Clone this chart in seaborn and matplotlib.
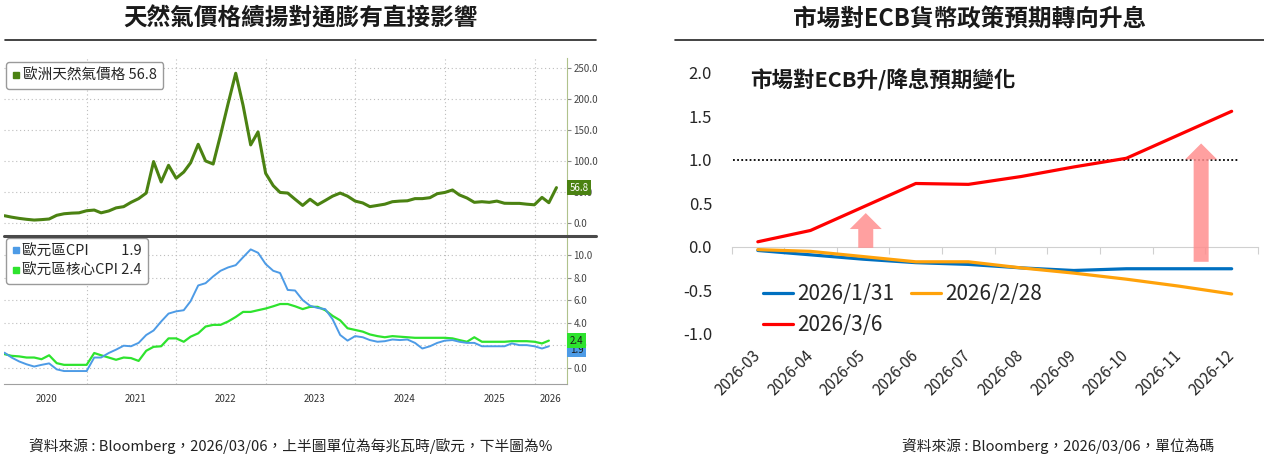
import numpy as np
import pandas as pd
import matplotlib
matplotlib.use('Agg')
import matplotlib.pyplot as plt
import matplotlib.dates as mdates
import seaborn as sns
from matplotlib.lines import Line2D
from matplotlib.patches import FancyArrowPatch, ArrowStyle

# ---------------- data ----------------
# European natural gas price (EUR/MWh), month-end Jan 2020 .. Mar 2026
gas_price = [11.3, 9, 7, 5.5, 4.3, 5, 6, 12, 14.5, 15.5,
             16, 19.4, 20.5, 16, 19, 24, 26, 33, 39, 48,
             99, 66, 93, 72, 82, 97, 127, 100, 95, 142,
             193, 242, 190, 126, 147, 80, 60, 49, 48, 38,
             28, 38, 29, 36, 43, 48, 43, 35, 32, 26,
             28, 30, 34, 35, 35.5, 39, 39, 40.5, 47, 49,
             53, 45, 40, 33, 34, 33, 35, 31.5, 31.3, 31.3,
             30, 29, 41, 32.4, 56.8]
# Euro area CPI and core CPI (% y/y), Jan 2020 .. Feb 2026
euro_cpi = [1.33, 0.9, 0.55, 0.3, 0.1, 0.25, 0.38, -0.15, -0.3, -0.3,
            -0.3, -0.3, 0.9, 0.9, 1.3, 1.6, 1.95, 1.9, 2.2, 2.9,
            3.3, 4.1, 4.8, 5.0, 5.1, 5.9, 7.3, 7.5, 8.1, 8.6,
            8.9, 9.1, 9.8, 10.5, 10.2, 9.2, 8.6, 8.4, 6.9, 6.85,
            6.0, 5.5, 5.3, 5.2, 4.3, 2.9, 2.4, 2.8, 2.7, 2.45,
            2.3, 2.35, 2.5, 2.45, 2.5, 2.2, 1.7, 1.9, 2.2, 2.4,
            2.45, 2.3, 2.2, 2.2, 1.9, 1.9, 1.9, 1.9, 2.15, 2.0,
            2.0, 1.9, 1.7, 1.9]
euro_core_cpi = [1.2, 1.05, 1.0, 0.9, 0.9, 0.75, 1.1, 0.4, 0.25, 0.25,
                 0.25, 0.25, 1.3, 1.1, 0.9, 0.7, 0.9, 0.85, 0.6, 1.5,
                 1.85, 1.9, 2.6, 2.6, 2.3, 2.75, 3.05, 3.65, 3.8, 3.8,
                 4.1, 4.5, 4.95, 4.95, 5.1, 5.25, 5.45, 5.65, 5.65, 5.45,
                 5.2, 5.4, 5.4, 5.1, 4.6, 4.2, 3.5, 3.35, 3.2, 2.95,
                 2.8, 2.7, 2.8, 2.75, 2.7, 2.65, 2.65, 2.65, 2.65, 2.65,
                 2.6, 2.45, 2.3, 2.7, 2.3, 2.3, 2.3, 2.3, 2.35, 2.35,
                 2.35, 2.3, 2.15, 2.4]
year_labels = ['2020', '2021', '2022', '2023', '2024', '2025', '2026']
gas_ticks = [0, 50, 100, 150, 200, 250]
cpi_ticks = [0, 2, 4, 6, 8, 10]

# Market-implied ECB rate change (in 25bp moves)
ecb_months = ['2026-03', '2026-04', '2026-05', '2026-06', '2026-07',
              '2026-08', '2026-09', '2026-10', '2026-11', '2026-12']
ecb_0131 = [-0.04, -0.09, -0.14, -0.18, -0.20, -0.24, -0.27, -0.25, -0.25, -0.25]
ecb_0228 = [-0.03, -0.05, -0.11, -0.17, -0.17, -0.24, -0.30, -0.37, -0.45, -0.54]
ecb_0306 = [0.06, 0.19, 0.46, 0.73, 0.72, 0.81, 0.92, 1.02, 1.29, 1.56]
ecb_labels = ['2026/1/31', '2026/2/28', '2026/3/6']
ecb_ticks = [-1.0, -0.5, 0.0, 0.5, 1.0, 1.5, 2.0]

# ---------------- style ----------------
sns.set_theme(style='white')
plt.rcParams['font.family'] = ['Noto Sans CJK TC', 'DejaVu Sans']
plt.rcParams['axes.unicode_minus'] = False

W, H = 1264, 457
fig = plt.figure(figsize=(W / 100, H / 100), dpi=100)
fig.patch.set_facecolor('white')


def rect(x0, y0, x1, y1):
    return [x0 / W, 1 - y1 / H, (x1 - x0) / W, (y1 - y0) / H]


ax_g = fig.add_axes(rect(4, 58, 567, 235))
ax_c = fig.add_axes(rect(4, 237, 567, 384))
ax_r = fig.add_axes(rect(731.5, 73, 1258, 334))

GAS_C = '#4b8212'
CPI_C = '#4d9be6'
CORE_C = '#2ee32e'

# ---------------- left: gas ----------------
month_end = pd.offsets.MonthEnd()
gas_df = pd.DataFrame({'date': pd.date_range('2020-01-31', periods=len(gas_price), freq=month_end),
                       'value': gas_price})
cpi_df = pd.DataFrame({'date': pd.date_range('2020-01-31', periods=len(euro_cpi), freq=month_end),
                       'cpi': euro_cpi, 'core': euro_core_cpi})

sns.lineplot(data=gas_df, x='date', y='value', ax=ax_g, color=GAS_C, lw=2.2)
sns.lineplot(data=cpi_df, x='date', y='core', ax=ax_c, color=CORE_C, lw=1.6)
sns.lineplot(data=cpi_df, x='date', y='cpi', ax=ax_c, color=CPI_C, lw=1.4)

x_left = mdates.date2num(pd.Timestamp('2020-01-29'))
x_right = mdates.date2num(pd.Timestamp('2026-05-13'))
bounds = mdates.date2num(pd.to_datetime([f'{y}-01-01' for y in year_labels[1:]]))
centers = [mdates.date2num(pd.Timestamp(f'{y}-07-20')) for y in year_labels[:-1]]
centers.append((bounds[-1] + x_right) / 2)

for ax, ticks, ylim in [(ax_g, gas_ticks, (-19.9, 266.7)), (ax_c, cpi_ticks, (-1.45, 11.6))]:
    ax.set_xlim(x_left, x_right)
    ax.set_ylim(*ylim)
    ax.set_xlabel('')
    ax.set_ylabel('')
    ax.yaxis.tick_right()
    ax.set_yticks(ticks)
    ax.set_yticklabels([f'{t:.1f}' for t in ticks])
    ax.tick_params(axis='y', length=3, width=0.8, color='#8a8a8a', labelsize=7,
                   labelcolor='#444444', pad=1.5)
    ax.set_xticks(bounds)
    ax.grid(True, which='major', linestyle=(0, (1, 2.5)), color='#bdbdbd', lw=0.8)
    for s in ['left', 'top', 'bottom']:
        ax.spines[s].set_visible(False)
    ax.spines['right'].set_color('#b0c28c')
    ax.spines['right'].set_linewidth(0.8)

ax_g.tick_params(axis='x', length=0, labelbottom=False)
ax_c.set_xticklabels([])
ax_c.set_xticks(centers, minor=True)
ax_c.set_xticklabels(year_labels, minor=True)
ax_c.tick_params(axis='x', which='major', length=14, width=0.8, color='#aaaaaa', direction='out')
ax_c.tick_params(axis='x', which='minor', length=0, labelsize=7, labelcolor='#333333', pad=7)
ax_c.spines['bottom'].set_visible(True)
ax_c.spines['bottom'].set_color('#a0a0a0')
ax_c.spines['bottom'].set_linewidth(0.8)

# separator between the two panels
fig.add_artist(Line2D([4 / W, 596 / W], [1 - 236 / H, 1 - 236 / H], color='#4a4a4a', lw=2.2))

# value tags on the right axis
ax_g.text(1.005, gas_price[-1], f'{gas_price[-1]:.1f}', transform=ax_g.get_yaxis_transform(),
          fontsize=7, color='white', va='center', ha='left', zorder=5, clip_on=False,
          bbox=dict(boxstyle='square,pad=0.25', fc=GAS_C, ec='none'))
ax_c.text(1.005, euro_cpi[-1] - 0.3, f'{euro_cpi[-1]:.1f}', transform=ax_c.get_yaxis_transform(),
          fontsize=7, color='#1a1a1a', va='center', ha='left', zorder=5, clip_on=False,
          bbox=dict(boxstyle='square,pad=0.25', fc=CPI_C, ec='none'))
ax_c.text(1.005, euro_core_cpi[-1], f'{euro_core_cpi[-1]:.1f}', transform=ax_c.get_yaxis_transform(),
          fontsize=7, color='#1a1a1a', va='center', ha='left', zorder=6, clip_on=False,
          bbox=dict(boxstyle='square,pad=0.25', fc=CORE_C, ec='none'))

# legends
ax_g.legend(handles=[Line2D([], [], ls='', marker='s', ms=4.5, color=GAS_C)],
            labels=[f'歐洲天然氣價格 {gas_price[-1]:.1f}'], loc='upper left',
            bbox_to_anchor=(0.004, 0.977), fontsize=10.5, frameon=True, fancybox=True,
            edgecolor='#9a9a9a', facecolor='white', framealpha=1, handlelength=0.5,
            handletextpad=0.2, borderpad=0.45, borderaxespad=0)
ax_c.legend(handles=[Line2D([], [], ls='', marker='s', ms=4.5, color=CPI_C),
                     Line2D([], [], ls='', marker='s', ms=4.5, color=CORE_C)],
            labels=[f'歐元區CPI\u3000\u3000 {euro_cpi[-1]:.1f}', f'歐元區核心CPI {euro_core_cpi[-1]:.1f}'],
            loc='upper left', bbox_to_anchor=(0.004, 0.99), fontsize=10.5, frameon=True,
            fancybox=True, edgecolor='#9a9a9a', facecolor='white', framealpha=1,
            handlelength=0.5, handletextpad=0.2, borderpad=0.4, borderaxespad=0,
            labelspacing=0.4)

# ---------------- right: ECB ----------------
ecb_df = pd.DataFrame({'pos': np.arange(len(ecb_months)), 'month': ecb_months,
                       ecb_labels[0]: ecb_0131, ecb_labels[1]: ecb_0228, ecb_labels[2]: ecb_0306})
ecb_colors = ['#0070c0', '#ffa20a', '#ff0000']
for lab, col in zip(ecb_labels, ecb_colors):
    sns.lineplot(data=ecb_df, x='pos', y=lab, ax=ax_r, color=col, lw=2.3, label=lab)

ax_r.set_xlim(-0.5, len(ecb_months) - 0.5)
ax_r.set_ylim(-1.0, 2.0)
ax_r.set_xlabel('')
ax_r.set_ylabel('')
for s in ax_r.spines.values():
    s.set_visible(False)
ax_r.set_yticks(ecb_ticks)
ax_r.set_yticklabels([f'{t:.1f}' for t in ecb_ticks])
ax_r.tick_params(axis='y', length=0, labelsize=12, labelcolor='#262626', pad=14)
ax_r.set_xticks(ecb_df['pos'])
ax_r.set_xticklabels(ecb_df['month'], rotation=45, ha='right', va='center', rotation_mode='anchor')
ax_r.tick_params(axis='x', length=0, labelsize=11, labelcolor='#262626', pad=14)

zero_ax = ax_r.secondary_xaxis(1 / 3)
zero_ax.set_xticks(np.arange(-0.5, len(ecb_months), 1.0))
zero_ax.tick_params(axis='x', length=5, width=0.8, color='#d0d0d0', direction='out',
                    labelbottom=False, labeltop=False)
for s in zero_ax.spines.values():
    s.set_color('#d0d0d0')
    s.set_linewidth(0.8)

# 1.0 reference line
ax_r.hlines(1.0, -0.47, 9.12, colors='black', linestyles=(0, (1, 1.3)), lw=1.3, zorder=1)

# pink arrows
arrow_style = ArrowStyle.Simple(head_length=11.5, head_width=23, tail_width=10.8)
for xa, y0, y1 in [(2.05, -0.01, 0.39), (8.42, -0.17, 1.19)]:
    ax_r.add_patch(FancyArrowPatch((xa, y0), (xa, y1), arrowstyle=arrow_style, mutation_scale=1,
                                   fc='#ff8f8f', ec='none', alpha=0.85, shrinkA=0, shrinkB=0,
                                   zorder=1.5))

ax_r.text(0.035, 0.973, '市場對ECB升/降息預期變化', transform=ax_r.transAxes, fontsize=15.5,
          fontweight='bold', va='center', ha='left', color='#1a1a1a')

h, l = ax_r.get_legend_handles_labels()
order = [0, 2, 1]
ax_r.legend([h[i] for i in order], [l[i] for i in order], ncol=2, loc='upper left',
            bbox_to_anchor=(0.06, 0.195), frameon=False, fontsize=15, borderpad=0,
            borderaxespad=0, handlelength=1.45, handletextpad=0.2, columnspacing=0.8,
            labelspacing=0.45)

# ---------------- titles & notes ----------------
fig.text(301 / W, 1 - 19 / H, '天然氣價格續揚對通膨有直接影響', ha='center', va='center',
         fontsize=17, fontweight='bold', color='#1a1a1a')
fig.add_artist(Line2D([5 / W, 596 / W], [1 - 39.5 / H] * 2, color='#222222', lw=1.2))
fig.text(970 / W, 1 - 19 / H, '市場對ECB貨幣政策預期轉向升息', ha='center', va='center',
         fontsize=17, fontweight='bold', color='#1a1a1a')
fig.add_artist(Line2D([675 / W, 1264 / W], [1 - 39.5 / H] * 2, color='#222222', lw=1.2))

fig.text(29 / W, 1 - 446.5 / H, '資料來源 : Bloomberg，2026/03/06，上半圖單位為每兆瓦時/歐元，下半圖為%',
         ha='left', va='center', fontsize=10.6, color='#222222')
fig.text(902 / W, 1 - 446.5 / H, '資料來源 : Bloomberg，2026/03/06，單位為碼',
         ha='left', va='center', fontsize=10.6, color='#222222')

fig.savefig('out.png', dpi=100, facecolor='white')
